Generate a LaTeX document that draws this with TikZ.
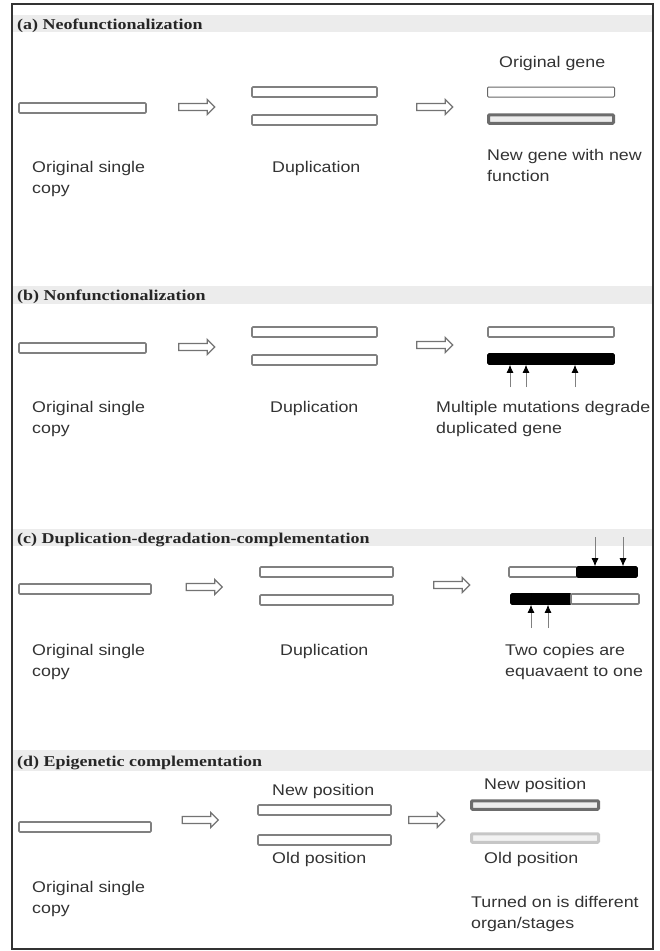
\documentclass[tikz,border=0pt]{standalone}
\usepackage{fontspec}
\setsansfont[FakeStretch=1.15]{Liberation Sans}
\newfontfamily\headfont[FakeStretch=1.2]{Liberation Serif}
\usetikzlibrary{arrows.meta,shapes.arrows,positioning}

\tikzset{
  gene/.style={draw=gray, line width=1.6pt, fill=white, minimum height=10pt, inner sep=0pt, rounded corners=1pt},
  deadgene/.style={gene, draw=black, fill=black},
  newgene/.style={gene, draw=gray!85!black, fill=gray!15, line width=3pt, minimum height=8.5pt},
  oldgene/.style={gene, draw=gray!45, fill=gray!10, line width=3pt, minimum height=8.5pt},
  fwd/.style={single arrow, draw=gray!90!black, fill=white, line width=1.3pt, inner sep=2.8pt, minimum height=36pt, single arrow head extend=4pt},
  mut/.style={draw=gray, line width=0.8pt, -{Latex[length=8pt,width=7pt,color=black]}},
  lbl/.style={font=\sffamily\fontsize{15.5}{21}\selectfont, text=black!80, anchor=base west, inner sep=0pt, align=left},
  head/.style={font=\headfont\bfseries\fontsize{15}{18}\selectfont, text=black!85, anchor=base west, inner sep=0pt},
  band/.style={fill=gray!15}
}

\begin{document}
\begin{tikzpicture}[x=1pt,y=-1pt]
  \useasboundingbox (0,0) rectangle (660,951);
  \draw[line width=1.5pt, draw=black!80] (12,4) rectangle (653,949);

  % header bands
  \foreach \top/\bot in {15/32, 286/304, 529/546, 750/771}
    \fill[band] (13,\top) rectangle (652,\bot);

  % (a)
  \node[head] (ha) at (17,29) {(a) Neofunctionalization};
  \node[gene, minimum width=127pt] (a1) at (82.5,108) {};
  \node[fwd] (fa1) at (195,107) {};
  \node[gene, minimum width=125pt] (a2t) at (314.5,92) {};
  \node[gene, minimum width=125pt] (a2b) at (314.5,120) {};
  \node[fwd] (fa2) at (433,107) {};
  \node[gene, draw=gray!80!black, line width=1pt, minimum width=127pt] (a3t) at (551,92) {};
  \node[newgene, minimum width=125pt] (a3b) at (551,119) {};
  \node[lbl] (la0) at (499,67) {Original gene};
  \node[lbl] (la1) at (32,193) {Original single\\copy};
  \node[lbl] (la2) at (272,172) {Duplication};
  \node[lbl] (la3) at (487,181) {New gene with new\\function};

  % (b)
  \node[head] (hb) at (17,300) {(b) Nonfunctionalization};
  \node[gene, minimum width=127pt] (b1) at (82.5,348) {};
  \node[fwd] (fb1) at (195,347) {};
  \node[gene, minimum width=125pt] (b2t) at (314.5,332) {};
  \node[gene, minimum width=125pt] (b2b) at (314.5,360) {};
  \node[fwd] (fb2) at (433,345) {};
  \node[gene, minimum width=126pt] (b3t) at (551,332) {};
  \node[deadgene, minimum width=126pt] (b3b) at (551,359) {};
  \foreach \x [count=\i] in {510,526,575} {
    \coordinate (bm\i) at (\x,387);
    \draw[mut] (bm\i) -- (bm\i |- b3b.south);
  }
  \node[lbl] (lb1) at (32,433) {Original single\\copy};
  \node[lbl] (lb2) at (270,412) {Duplication};
  \node[lbl] (lb3) at (436,433) {Multiple mutations degrade\\duplicated gene};

  % (c)
  \node[head] (hc) at (17,543) {(c) Duplication-degradation-complementation};
  \node[gene, minimum width=132pt] (c1) at (85,589) {};
  \node[fwd] (fc1) at (202.5,587) {};
  \node[gene, minimum width=133pt] (c2t) at (326.5,572) {};
  \node[gene, minimum width=133pt] (c2b) at (326.5,600) {};
  \node[fwd] (fc2) at (450,585) {};
  \node[gene, minimum width=68pt] (c3t) at (543,572) {};
  \node[deadgene, minimum width=60pt, right=-1.6pt of c3t] (c3tm) {};
  \node[deadgene, minimum width=60pt] (c3bm) at (541,599) {};
  \node[gene, minimum width=68pt, right=-1.6pt of c3bm] (c3b) {};
  \foreach \x [count=\i] in {595,623} {
    \coordinate (cd\i) at (\x,537);
    \draw[mut] (cd\i) -- (cd\i |- c3tm.north);
  }
  \foreach \x [count=\i] in {531,548} {
    \coordinate (cu\i) at (\x,628);
    \draw[mut] (cu\i) -- (cu\i |- c3bm.south);
  }
  \node[lbl] (lc1) at (32,676) {Original single\\copy};
  \node[lbl] (lc2) at (280,655) {Duplication};
  \node[lbl] (lc3) at (505,676) {Two copies are\\equavaent to one};

  % (d)
  \node[head] (hd) at (17,766) {(d) Epigenetic complementation};
  \node[gene, minimum width=132pt] (d1) at (85,827) {};
  \node[fwd] (fd1) at (198.5,820) {};
  \node[gene, minimum width=133pt] (d2t) at (324.5,810) {};
  \node[gene, minimum width=133pt] (d2b) at (324.5,840) {};
  \node[fwd] (fd2) at (425,820) {};
  \node[newgene, minimum width=127pt] (d3t) at (535,805) {};
  \node[oldgene, minimum width=127pt] (d3b) at (535,838) {};
  \node[lbl] (ld0) at (272,795) {New position};
  \node[lbl] (ld4) at (272,863) {Old position};
  \node[lbl] (ld5) at (484,789) {New position};
  \node[lbl] (ld6) at (484,863) {Old position};
  \node[lbl] (ld1) at (32,913) {Original single\\copy};
  \node[lbl] (ld3) at (471,928) {Turned on is different\\organ/stages};
\end{tikzpicture}
\end{document}
